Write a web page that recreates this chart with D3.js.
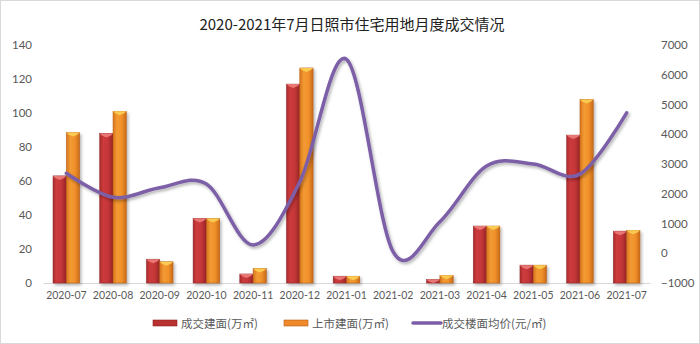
<!DOCTYPE html>
<html><head><meta charset="utf-8">
<script src="https://cdn.jsdelivr.net/npm/d3@7/dist/d3.min.js"></script>
<style>
html,body{margin:0;padding:0;background:#fff;}
svg{display:block;}
</style></head>
<body>
<script>
const months = ["2020-07","2020-08","2020-09","2020-10","2020-11","2020-12","2021-01","2021-02","2021-03","2021-04","2021-05","2021-06","2021-07"];
const dealArea = [63, 88, 14, 38, 5.3, 117, 4, 0, 2, 33.5, 10.5, 87, 30.5];
const listedArea = [88.5, 101, 12.5, 38, 8.6, 126.5, 4, 0, 4.5, 33.5, 10.5, 108, 31];
const avgPrice = [2690, 1880, 2200, 2330, 280, 2400, 6520, 50, 1060, 2930, 3000, 2660, 4720];
const leftTicks = [0, 20, 40, 60, 80, 100, 120, 140];
const rightTicks = [-1000, 0, 1000, 2000, 3000, 4000, 5000, 6000, 7000];
const seriesNames = ["成交建面(万㎡)", "上市建面(万㎡)", "成交楼面均价(元/㎡)"];
const title = "2020-2021年7月日照市住宅用地月度成交情况";

const W = 700, H = 344;
const svg = d3.select("body").append("svg").attr("width", W).attr("height", H);
const defs = svg.append("defs");

function hGrad(id, stops) {
  const g = defs.append("linearGradient").attr("id", id).attr("x1", "0").attr("x2", "1").attr("y1", "0").attr("y2", "0");
  stops.forEach(s => g.append("stop").attr("offset", s[0]).attr("stop-color", s[1]));
}
hGrad("gRed", [[0, "#a92a2c"], [0.25, "#cc3b3c"], [0.6, "#c63739"], [1, "#9b2527"]]);
hGrad("gOrg", [[0, "#d8731c"], [0.3, "#f39a34"], [0.65, "#f0912a"], [1, "#c8691a"]]);
const sh = defs.append("filter").attr("id", "shadow").attr("x", "-20%").attr("y", "-20%").attr("width", "140%").attr("height", "140%");
sh.append("feDropShadow").attr("dx", 1.5).attr("dy", 2).attr("stdDeviation", 1.5).attr("flood-color", "#000").attr("flood-opacity", 0.3);

// border
svg.append("rect").attr("x", 0.5).attr("y", 0.5).attr("width", W - 1).attr("height", H - 1)
  .attr("fill", "none").attr("stroke", "#d9d9d9");

const plot = {left: 43, right: 650, top: 45, bottom: 283};
const x = d3.scaleBand().domain(months).range([plot.left, plot.right]).paddingInner(0.43).paddingOuter(0.215);
const yL = d3.scaleLinear().domain([0, 140]).range([plot.bottom, plot.top]);
const yR = d3.scaleLinear().domain([-1000, 7000]).range([plot.bottom, plot.top]);
const xs = d3.scaleBand().domain([0, 1]).range([0, x.bandwidth()]);

// title
svg.append("text").attr("x", 352).attr("y", 30).attr("text-anchor", "middle")
  .attr("font-family", "'Noto Sans CJK SC', 'Noto Sans', sans-serif").attr("font-size", 15)
  .attr("fill", "#222").text(title);

const numFont = "Lato, 'Open Sans', sans-serif";
// left axis
const gl = svg.append("g").attr("transform", `translate(${plot.left - 11},0)`)
  .call(d3.axisLeft(yL).tickValues(leftTicks).tickSize(0).tickPadding(0));
gl.select(".domain").remove();
gl.selectAll("text").attr("font-family", numFont).attr("font-size", 11.5).attr("fill", "#595959");
// right axis
const gr = svg.append("g").attr("transform", `translate(${plot.right + 11},0)`)
  .call(d3.axisRight(yR).tickValues(rightTicks).tickFormat(d3.format("d")).tickSize(0).tickPadding(0));
gr.select(".domain").remove();
gr.selectAll("text").attr("font-family", numFont).attr("font-size", 11.5).attr("fill", "#595959");

// x axis
const gx = svg.append("g").attr("transform", `translate(0,${plot.bottom})`)
  .call(d3.axisBottom(x).tickSize(0).tickPadding(9));
gx.select(".domain").attr("stroke", "#d9d9d9");
gx.selectAll("text").attr("font-family", numFont).attr("font-size", 10.5).attr("fill", "#595959");

// bars
const series = [
  {vals: dealArea, fill: "url(#gRed)", cap: "#ec7d7b", edge: "#8e2224"},
  {vals: listedArea, fill: "url(#gOrg)", cap: "#fcd054", edge: "#b55e17"}
];
series.forEach((s, si) => {
  const g = svg.append("g").attr("filter", "url(#shadow)");
  months.forEach((m, i) => {
    const v = s.vals[i];
    if (!v) return;
    const x0 = x(m) + xs(si), w = xs.bandwidth(), y0 = yL(v), h = yL(0) - y0;
    g.append("rect").attr("x", x0).attr("y", y0).attr("width", w).attr("height", h)
      .attr("fill", s.fill).attr("stroke", s.edge).attr("stroke-width", 0.5);
    const ch = Math.min(4, h);
    g.append("polygon").attr("points", [
      [x0, y0], [x0 + w, y0], [x0 + w - 2, y0 + ch * 0.5], [x0 + w / 2, y0 + ch], [x0 + 2, y0 + ch * 0.5]
    ].map(p => p.join(",")).join(" ")).attr("fill", s.cap).attr("opacity", 0.9);
  });
});

// line
const line = d3.line().x((d, i) => x(months[i]) + x.bandwidth() / 2).y(d => yR(d)).curve(d3.curveCardinal.tension(0));
svg.append("path").datum(avgPrice).attr("d", line).attr("fill", "none")
  .attr("stroke", "#7b5ea7").attr("stroke-width", 3.5).attr("stroke-linecap", "round")
  .attr("filter", "url(#shadow)");

// legend
const lg = svg.append("g");
const lf = "'Noto Sans CJK SC', sans-serif";
const legendItems = [
  {x: 153, type: "bar", fill: "#b8302f", edge: "#8e2224"},
  {x: 284, type: "bar", fill: "#ee8a2a", edge: "#b55e17"},
  {x: 413, type: "line", fill: "#7b5ea7"}
];
legendItems.forEach((it, i) => {
  if (it.type === "bar") {
    lg.append("rect").attr("x", it.x).attr("y", 320).attr("width", 24).attr("height", 6)
      .attr("fill", it.fill).attr("stroke", it.edge).attr("stroke-width", 0.6);
  } else {
    lg.append("line").attr("x1", it.x).attr("x2", it.x + 28).attr("y1", 323).attr("y2", 323)
      .attr("stroke", it.fill).attr("stroke-width", 3.5).attr("stroke-linecap", "round");
  }
  lg.append("text").attr("x", it.x + (it.type === "bar" ? 28 : 29)).attr("y", 327.5)
    .attr("font-family", lf).attr("font-size", 11.5).attr("fill", "#595959").text(seriesNames[i]);
});
</script>
</body></html>
